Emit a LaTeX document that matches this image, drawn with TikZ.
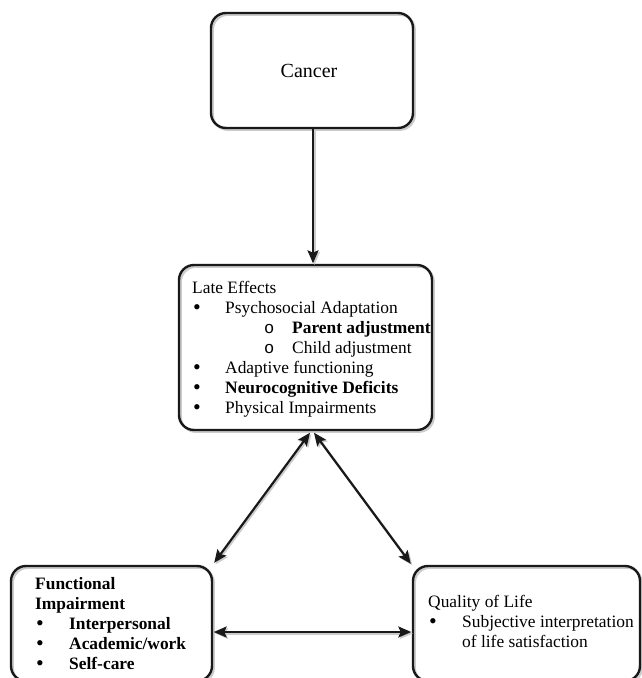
\documentclass[tikz,border=0pt]{standalone}
\usepackage{fontspec}
\setmainfont{Liberation Serif}
\newfontfamily\monof{Liberation Mono}
\usetikzlibrary{arrows.meta,calc}
\begin{document}
\begin{tikzpicture}[x=1pt,y=-1pt,
  box/.style={draw=black!90, line width=2.4pt, rounded corners=15pt, rectangle, inner sep=0pt,
    preaction={draw=black!20, line width=2.2pt, transform canvas={xshift=1.8pt,yshift=-1.8pt}}},
  conn/.style={draw=black!90, line width=2.2pt,
    preaction={draw=black!20, line width=2pt, transform canvas={xshift=1.5pt,yshift=-1.5pt}}},
  tip/.tip={Stealth[length=13pt,width=11pt,inset=2.5pt]},
  txt/.style={anchor=base west, inner sep=0pt, font=\fontsize{17.4}{20}\selectfont},
  bul/.style={anchor=base west, inner sep=0pt, font=\fontsize{22}{20}\selectfont},
  sub/.style={anchor=base west, inner sep=0pt, font=\monof\fontsize{17}{20}\selectfont}
]
\useasboundingbox (0,0) rectangle (641,678);

% boxes
\node[box, minimum width=202pt, minimum height=115pt] (cancer) at (312,70.5) {};
\node[box, minimum width=253pt, minimum height=165pt] (late) at (305.5,347.5) {};
\node[box, minimum width=201pt, minimum height=115pt] (func) at (111.5,623.5) {};
\node[box, minimum width=227pt, minimum height=115pt] (qual) at (526.5,623.5) {};

% Cancer text
\node[anchor=base, inner sep=0pt, font=\fontsize{20}{24}\selectfont] (tcancer) at (309,77) {Cancer};

% Late effects text
\node[txt] (t1) at (192,293) {Late Effects};
\node[bul] (b1) at (193,314) {•};
\node[txt] (t2) at (225,313) {Psychosocial Adaptation};
\node[sub] (s1) at (264,333) {o};
\node[txt] (t3) at (292,333) {\bfseries Parent adjustment};
\node[sub] (s2) at (264,353) {o};
\node[txt] (t4) at (292,353) {Child adjustment};
\node[bul] (b2) at (193,374) {•};
\node[txt] (t5) at (225,373) {Adaptive functioning};
\node[bul] (b3) at (193,394) {•};
\node[txt] (t6) at (225,393) {\bfseries Neurocognitive Deficits};
\node[bul] (b4) at (193,414) {•};
\node[txt] (t7) at (225,413) {Physical Impairments};

% Functional impairment text
\node[txt] (f1) at (35,589) {\bfseries Functional};
\node[txt] (f2) at (35,609) {\bfseries Impairment};
\node[bul] (fb1) at (36,630) {•};
\node[txt] (f3) at (69,629) {\bfseries Interpersonal};
\node[bul] (fb2) at (36,650) {•};
\node[txt] (f4) at (69,649) {\bfseries Academic/work};
\node[bul] (fb3) at (36,670) {•};
\node[txt] (f5) at (69,669) {\bfseries Self-care};

% Quality of life text
\node[txt] (q1) at (428,607) {Quality of Life};
\node[bul] (qb1) at (429,628) {•};
\node[txt] (q2) at (462,627) {Subjective interpretation};
\node[txt] (q3) at (462,647) {of life satisfaction};

% connector end points
\coordinate (lateL) at ($(late.south)+(4.5,1.5)$);
\coordinate (lateR) at ($(late.south)+(8.5,1.5)$);
\coordinate (funcC) at ($(func.north east)+(1,-2)$);
\coordinate (qualC) at ($(qual.north west)+(-1,-1)$);

% connectors
\draw[conn, -{tip}] ($(cancer.south)+(1,0)$) -- ($(cancer.south |- late.north)+(1,-0.5)$);
\draw[conn, {tip}-{tip}] (lateL) -- (funcC);
\draw[conn, {tip}-{tip}] (lateR) -- (qualC);
\draw[conn, {tip}-{tip}] ($(func.east)+(0.5,8.5)$) -- ($(qual.west)+(-0.5,8.5)$);
\end{tikzpicture}
\end{document}
